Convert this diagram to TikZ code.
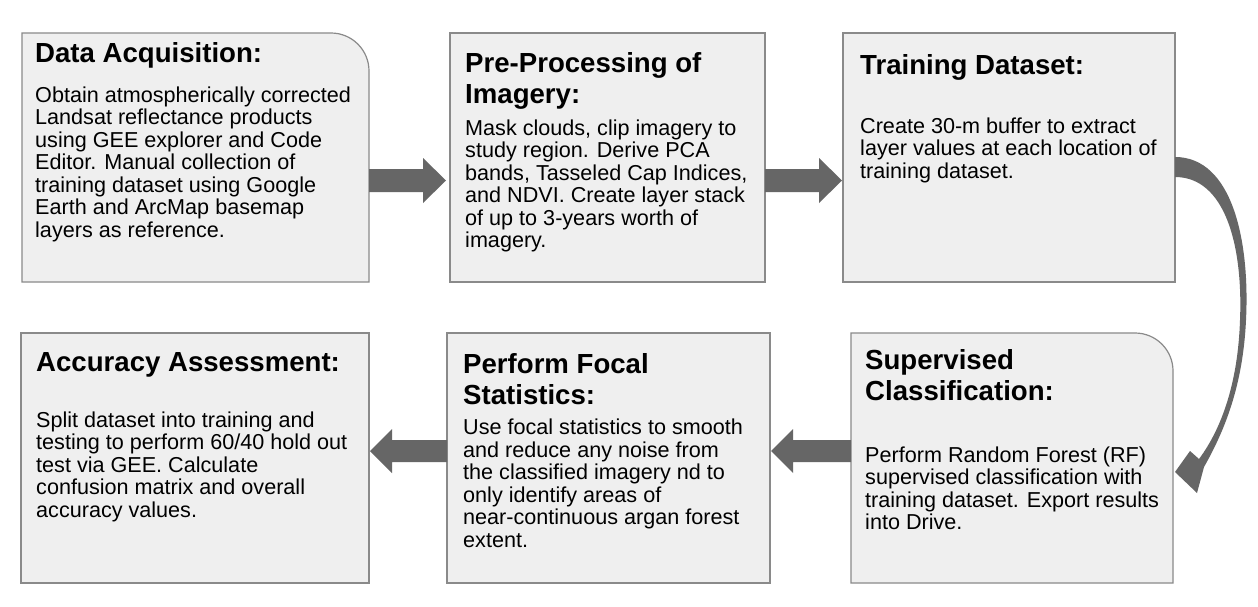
\documentclass[tikz,border=0pt]{standalone}
\usepackage{fontspec}
\usetikzlibrary{calc}
\newfontfamily\arialf{Liberation Sans}
\definecolor{boxfill}{HTML}{EFEFEF}
\definecolor{boxline}{HTML}{8A8A8A}
\definecolor{arrcol}{HTML}{666666}
\newcommand\mkline[1]{\hbox{#1}}
\tikzset{
  boxn/.style={rectangle, inner sep=0pt, outer sep=0pt},
  plainbox/.style={boxn, draw=boxline, fill=boxfill, line width=1.2pt},
  roundbox/.style={draw=boxline, fill=boxfill, line width=1.2pt},
  ttl/.style={anchor=base west, inner sep=0pt, font=\arialf\bfseries\fontsize{27.6}{31}\selectfont},
  bdy/.style={anchor=base west, inner sep=0pt, font=\arialf\fontsize{21.6}{22.5}\selectfont},
}
\begin{document}
\begin{tikzpicture}[x=1pt,y=-1pt]
\useasboundingbox (0,0) rectangle (1258,606);
\fill[white] (0,0) rectangle (1258,606);

% boxes
\node[boxn, minimum width=347pt, minimum height=249pt] (b1) at (195.5,157.5) {};
\draw[roundbox] (b1.south west) -- (b1.north west) -- ($(b1.north east)+(-38,0)$)
  .. controls ($(b1.north east)+(-17,0)$) and ($(b1.north east)+(0,17)$) .. ($(b1.north east)+(0,38)$)
  -- (b1.south east) -- cycle;
\node[plainbox, minimum width=315pt, minimum height=249pt] (b2) at (607.5,157.5) {};
\node[plainbox, minimum width=332pt, minimum height=249pt] (b3) at (1009,157.5) {};
\node[plainbox, minimum width=348pt, minimum height=250pt] (b4) at (195,458) {};
\node[plainbox, minimum width=323pt, minimum height=250pt] (b5) at (608.5,458) {};
\node[boxn, minimum width=322pt, minimum height=250pt] (b6) at (1012,458) {};
\draw[roundbox] (b6.south west) -- (b6.north west) -- ($(b6.north east)+(-38,0)$)
  .. controls ($(b6.north east)+(-17,0)$) and ($(b6.north east)+(0,17)$) .. ($(b6.north east)+(0,38)$)
  -- (b6.south east) -- cycle;

% texts
\node[ttl] (t1) at (35,62) {Data Acquisition:};
\node[bdy] (d1) at (35,102) {\vtop{\mkline{Obtain atmospherically corrected}\mkline{Landsat reflectance products}\mkline{using GEE explorer and Code}\mkline{Editor. Manual collection of}\mkline{training dataset using Google}\mkline{Earth and ArcMap basemap}\mkline{layers as reference.}}};

\node[ttl] (t2) at (465,72) {\vtop{\mkline{Pre-Processing of}\mkline{Imagery:}}};
\node[bdy] (d2) at (465,135) {\vtop{\mkline{Mask clouds, clip imagery to}\mkline{study region. Derive PCA}\mkline{bands, Tasseled Cap Indices,}\mkline{and NDVI. Create layer stack}\mkline{of up to 3-years worth of}\mkline{imagery.}}};

\node[ttl] (t3) at (860,74) {Training Dataset:};
\node[bdy] (d3) at (860,133) {\vtop{\mkline{Create 30-m buffer to extract}\mkline{layer values at each location of}\mkline{training dataset.}}};

\node[ttl] (t4) at (36,371) {Accuracy Assessment:};
\node[bdy] (d4) at (36,427) {\vtop{\mkline{Split dataset into training and}\mkline{testing to perform 60/40 hold out}\mkline{test via GEE. Calculate}\mkline{confusion matrix and overall}\mkline{accuracy values.}}};

\node[ttl] (t5) at (463,373) {\vtop{\mkline{Perform Focal}\mkline{Statistics:}}};
\node[bdy] (d5) at (463,434.5) {\vtop{\mkline{Use focal statistics to smooth}\mkline{and reduce any noise from}\mkline{the classified imagery nd to}\mkline{only identify areas of}\mkline{near-continuous argan forest}\mkline{extent.}}};

\node[ttl] (t6) at (865,369) {\vtop{\mkline{Supervised}\mkline{Classification:}}};
\node[bdy] (d6) at (865,462) {\vtop{\mkline{Perform Random Forest (RF)}\mkline{supervised classification with}\mkline{training dataset. Export results}\mkline{into Drive.}}};

% straight block arrows
\coordinate (a1s) at ($(b1.east)+(0,23)$);
\coordinate (a1t) at ($(b2.west)+(-4,23)$);
\coordinate (a2s) at ($(b2.east)+(0,23)$);
\coordinate (a2t) at ($(b3.west)+(-1,23)$);
\coordinate (a3s) at ($(b6.west)+(0,-7)$);
\coordinate (a3t) at ($(b5.east)+(1,-7)$);
\coordinate (a4s) at ($(b5.west)+(0,-7)$);
\coordinate (a4t) at ($(b4.east)+(1,-7)$);
\foreach \s/\t in {a1s/a1t, a2s/a2t} {
  \fill[arrcol] let \p1=(\s), \p2=(\t) in
    (\x1,\y1+11.5pt) -- (\x2-23pt,\y1+11.5pt) -- (\x2-23pt,\y1+22.5pt) -- (\x2,\y1)
    -- (\x2-23pt,\y1-22.5pt) -- (\x2-23pt,\y1-11.5pt) -- (\x1,\y1-11.5pt) -- cycle;
}
\foreach \s/\t in {a3s/a3t, a4s/a4t} {
  \fill[arrcol] let \p1=(\s), \p2=(\t) in
    (\x1,\y1+11pt) -- (\x2+22pt,\y1+11pt) -- (\x2+22pt,\y1+22pt) -- (\x2,\y1)
    -- (\x2+22pt,\y1-22pt) -- (\x2+22pt,\y1-11pt) -- (\x1,\y1-11pt) -- cycle;
}

% curved tapered arrow from b3 to b6
\begin{scope}[shift={(b3.east)}]
\fill[arrcol] (0,-0.5) .. controls (57,-0.5) and (75,82.5) .. (71,162.5)
  .. controls (68,227.5) and (50,272.5) .. (29,309.5)
  -- (22,335.5) -- (0,314.5) -- (15,293.5) -- (24,301.5)
  .. controls (47,270.5) and (63,224.5) .. (65,162.5)
  .. controls (68,87.5) and (50,19.5) .. (0,19.5) -- cycle;
\end{scope}
\end{tikzpicture}
\end{document}
